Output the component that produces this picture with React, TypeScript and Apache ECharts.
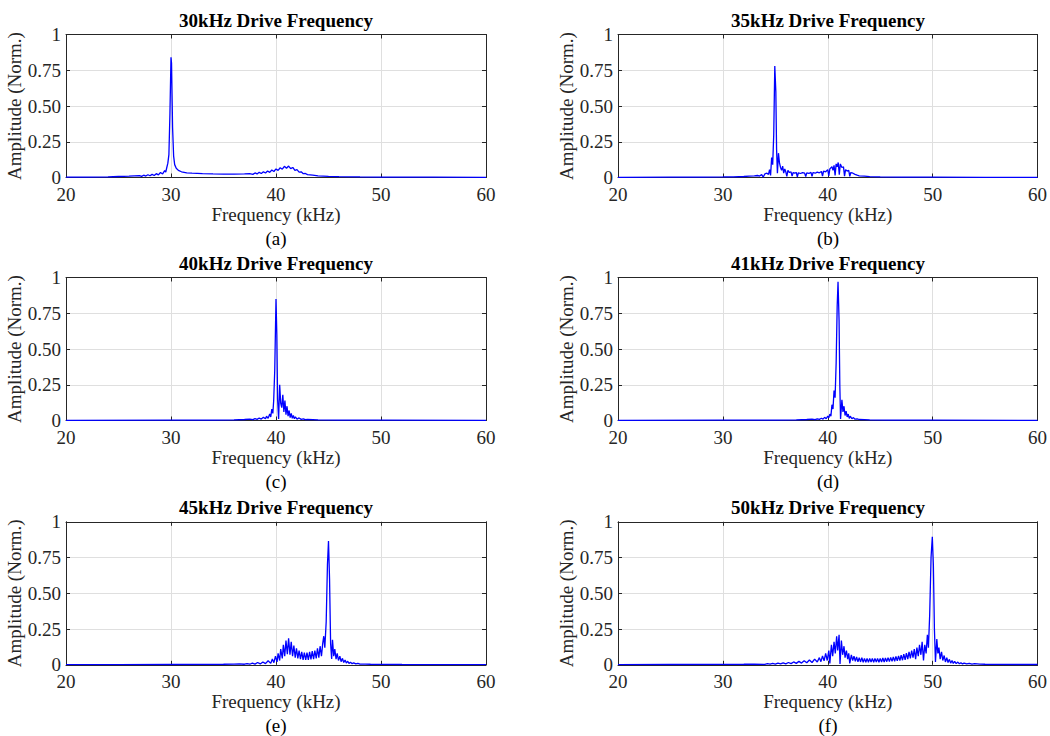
import React, { useEffect, useRef } from "react";
import * as echarts from "echarts";

// ---------- data ----------
const TITLES = [
  "30kHz Drive Frequency",
  "35kHz Drive Frequency",
  "40kHz Drive Frequency",
  "41kHz Drive Frequency",
  "45kHz Drive Frequency",
  "50kHz Drive Frequency",
];
const CAPTIONS = ["(a)", "(b)", "(c)", "(d)", "(e)", "(f)"];
const X_LABEL = "Frequency (kHz)";
const Y_LABEL = "Amplitude (Norm.)";
const X_TICKS = [20, 30, 40, 50, 60];
const Y_TICKS = [0, 0.25, 0.5, 0.75, 1];
const Y_TICK_LABELS = ["0", "0.25", "0.50", "0.75", "1"];

// (a) 30 kHz drive
const FREQ_A = [20, 22, 24, 25, 26, 26.5, 27, 27.2, 27.4, 27.6, 27.8, 28, 28.2, 28.4, 28.6, 28.8, 29, 29.2, 29.4, 29.5, 29.6, 29.7, 29.8, 29.9, 30, 30.05, 30.15, 30.25, 30.35, 30.5, 30.7, 31, 31.5, 32, 33, 34, 35, 36, 37, 37.5, 37.8, 38, 38.2, 38.4, 38.6, 38.8, 39, 39.2, 39.4, 39.6, 39.8, 40, 40.2, 40.4, 40.6, 40.8, 41, 41.2, 41.4, 41.6, 41.8, 42, 42.2, 42.4, 42.6, 42.8, 43, 43.5, 44, 45, 46, 48, 50, 55, 60];
const AMP_A = [0.002, 0.003, 0.005, 0.007, 0.009, 0.011, 0.013, 0.008, 0.016, 0.01, 0.019, 0.012, 0.022, 0.014, 0.027, 0.018, 0.035, 0.025, 0.048, 0.038, 0.07, 0.1, 0.16, 0.45, 0.84, 0.8, 0.35, 0.15, 0.09, 0.065, 0.05, 0.04, 0.033, 0.03, 0.027, 0.025, 0.024, 0.024, 0.025, 0.027, 0.022, 0.032, 0.025, 0.036, 0.028, 0.04, 0.031, 0.045, 0.036, 0.052, 0.042, 0.06, 0.05, 0.068, 0.058, 0.078, 0.065, 0.08, 0.062, 0.07, 0.05, 0.055, 0.038, 0.04, 0.027, 0.028, 0.02, 0.016, 0.012, 0.008, 0.006, 0.004, 0.003, 0.002, 0.001];

// (b) 35 kHz drive
const FREQ_B = [20, 25, 28, 30, 31, 32, 32.5, 33, 33.3, 33.5, 33.7, 33.85, 34, 34.2, 34.35, 34.45, 34.55, 34.65, 34.75, 34.85, 34.95, 35.05, 35.12, 35.2, 35.3, 35.4, 35.5, 35.6, 35.7, 35.8, 35.9, 36, 36.1, 36.2, 36.35, 36.5, 36.6, 36.7, 36.85, 37, 37.1, 37.2, 37.4, 37.6, 37.8, 37.9, 38, 38.2, 38.4, 38.5, 38.6, 38.8, 39, 39.2, 39.4, 39.5, 39.6, 39.8, 40, 40.1, 40.2, 40.4, 40.5, 40.6, 40.7, 40.8, 40.9, 41, 41.1, 41.2, 41.35, 41.5, 41.6, 41.7, 41.85, 42, 42.1, 42.2, 42.4, 42.6, 42.8, 43, 43.5, 44, 45, 47, 50, 55, 60];
const AMP_B = [0.001, 0.002, 0.003, 0.004, 0.005, 0.007, 0.009, 0.011, 0.014, 0.01, 0.02, 0.003, 0.025, 0.03, 0.022, 0.055, 0.015, 0.14, 0.09, 0.3, 0.78, 0.6, 0.2, 0.03, 0.17, 0.1, 0.07, 0.05, 0.08, 0.03, 0.06, 0.04, 0.008, 0.05, 0.035, 0.04, 0.01, 0.035, 0.03, 0.035, 0.005, 0.033, 0.028, 0.034, 0.03, 0.006, 0.032, 0.028, 0.036, 0.008, 0.035, 0.03, 0.038, 0.033, 0.042, 0.01, 0.045, 0.04, 0.055, 0.012, 0.06, 0.075, 0.05, 0.085, 0.015, 0.095, 0.075, 0.105, 0.02, 0.095, 0.07, 0.075, 0.01, 0.055, 0.045, 0.05, 0.008, 0.035, 0.03, 0.022, 0.016, 0.012, 0.009, 0.006, 0.004, 0.003, 0.002, 0.001, 0.001];

// (c) 40 kHz drive
const FREQ_C = [20, 30, 34, 36, 37, 37.5, 37.8, 38, 38.2, 38.4, 38.6, 38.8, 39, 39.1, 39.25, 39.4, 39.5, 39.6, 39.7, 39.78, 39.88, 40, 40.08, 40.15, 40.25, 40.35, 40.45, 40.55, 40.65, 40.75, 40.85, 40.95, 41.05, 41.15, 41.25, 41.35, 41.45, 41.55, 41.65, 41.75, 41.85, 42, 42.2, 42.4, 42.6, 42.8, 43, 44, 46, 50, 60];
const AMP_C = [0.001, 0.002, 0.003, 0.005, 0.007, 0.01, 0.006, 0.013, 0.008, 0.017, 0.01, 0.022, 0.012, 0.03, 0.015, 0.045, 0.025, 0.08, 0.05, 0.14, 0.35, 0.85, 0.6, 0.15, 0.01, 0.25, 0.12, 0.09, 0.18, 0.06, 0.14, 0.04, 0.1, 0.03, 0.07, 0.02, 0.05, 0.015, 0.035, 0.012, 0.025, 0.01, 0.018, 0.008, 0.012, 0.006, 0.008, 0.005, 0.003, 0.002, 0.001];

// (d) 41 kHz drive
const FREQ_D = [20, 30, 35, 37, 38, 38.5, 38.8, 39, 39.2, 39.4, 39.55, 39.7, 39.85, 40, 40.1, 40.2, 40.3, 40.4, 40.5, 40.6, 40.7, 40.8, 40.9, 40.98, 41.08, 41.15, 41.22, 41.35, 41.45, 41.55, 41.65, 41.75, 41.85, 41.95, 42.05, 42.15, 42.3, 42.45, 42.6, 42.8, 43, 43.5, 44, 46, 50, 60];
const AMP_D = [0.001, 0.002, 0.003, 0.005, 0.007, 0.009, 0.006, 0.012, 0.008, 0.016, 0.01, 0.022, 0.012, 0.03, 0.018, 0.045, 0.03, 0.11, 0.08, 0.21, 0.16, 0.4, 0.8, 0.97, 0.7, 0.25, 0.01, 0.145, 0.06, 0.1, 0.035, 0.065, 0.025, 0.045, 0.015, 0.03, 0.012, 0.02, 0.009, 0.012, 0.007, 0.006, 0.005, 0.003, 0.002, 0.001];

// (e) 45 kHz drive
const FREQ_E = [20, 25, 30, 33, 35, 36, 36.5, 37, 37.25, 37.5, 37.75, 38, 38.25, 38.5, 38.75, 39, 39.25, 39.5, 39.65, 39.8, 39.95, 40.1, 40.2, 40.35, 40.45, 40.6, 40.7, 40.83, 40.95, 41.08, 41.2, 41.33, 41.45, 41.58, 41.7, 41.83, 41.95, 42.08, 42.2, 42.33, 42.45, 42.58, 42.7, 42.83, 42.95, 43.08, 43.2, 43.33, 43.45, 43.58, 43.7, 43.83, 43.95, 44.08, 44.2, 44.33, 44.45, 44.55, 44.65, 44.78, 44.9, 45, 45.1, 45.2, 45.3, 45.38, 45.5, 45.6, 45.72, 45.83, 45.95, 46.08, 46.2, 46.33, 46.45, 46.58, 46.7, 46.83, 46.95, 47.1, 47.25, 47.4, 47.6, 47.8, 48, 48.5, 49, 50, 52, 55, 60];
const AMP_E = [0.001, 0.001, 0.002, 0.003, 0.004, 0.005, 0.007, 0.004, 0.009, 0.004, 0.012, 0.005, 0.016, 0.006, 0.02, 0.008, 0.028, 0.01, 0.04, 0.015, 0.06, 0.02, 0.08, 0.03, 0.11, 0.045, 0.14, 0.06, 0.17, 0.075, 0.185, 0.07, 0.16, 0.06, 0.135, 0.05, 0.115, 0.045, 0.1, 0.04, 0.09, 0.035, 0.085, 0.035, 0.085, 0.035, 0.09, 0.038, 0.095, 0.04, 0.1, 0.045, 0.115, 0.05, 0.13, 0.06, 0.15, 0.2, 0.12, 0.3, 0.7, 0.865, 0.6, 0.15, 0.04, 0.175, 0.06, 0.11, 0.04, 0.08, 0.03, 0.06, 0.022, 0.045, 0.016, 0.033, 0.012, 0.025, 0.01, 0.018, 0.008, 0.013, 0.006, 0.01, 0.005, 0.005, 0.004, 0.003, 0.002, 0.001, 0.001];

// (f) 50 kHz drive
const FREQ_F = [20, 25, 30, 32, 33, 34, 34.25, 34.5, 34.75, 35, 35.25, 35.5, 35.75, 36, 36.25, 36.5, 36.75, 37, 37.25, 37.5, 37.75, 38, 38.25, 38.5, 38.75, 39, 39.2, 39.35, 39.5, 39.65, 39.8, 39.95, 40.1, 40.2, 40.35, 40.47, 40.6, 40.72, 40.85, 40.95, 41.08, 41.17, 41.3, 41.42, 41.55, 41.65, 41.78, 41.9, 42, 42.1, 42.25, 42.38, 42.5, 42.63, 42.75, 42.88, 43, 43.13, 43.25, 43.38, 43.5, 43.63, 43.75, 43.88, 44, 44.13, 44.25, 44.38, 44.5, 44.63, 44.75, 44.88, 45, 45.13, 45.25, 45.38, 45.5, 45.63, 45.75, 45.88, 46, 46.13, 46.25, 46.38, 46.5, 46.63, 46.75, 46.88, 47, 47.13, 47.25, 47.38, 47.5, 47.63, 47.75, 47.88, 48, 48.13, 48.25, 48.38, 48.5, 48.63, 48.75, 48.88, 49, 49.13, 49.25, 49.38, 49.5, 49.6, 49.72, 49.85, 49.97, 50.07, 50.17, 50.27, 50.4, 50.5, 50.6, 50.72, 50.85, 50.97, 51.1, 51.22, 51.35, 51.47, 51.6, 51.72, 51.85, 51.97, 52.1, 52.25, 52.4, 52.55, 52.7, 52.85, 53, 53.25, 53.5, 53.75, 54, 54.5, 55, 56, 58, 60];
const AMP_F = [0.001, 0.002, 0.003, 0.004, 0.005, 0.003, 0.008, 0.004, 0.01, 0.005, 0.012, 0.006, 0.014, 0.007, 0.016, 0.008, 0.02, 0.01, 0.024, 0.012, 0.028, 0.014, 0.034, 0.016, 0.04, 0.02, 0.05, 0.022, 0.062, 0.028, 0.08, 0.03, 0.1, 0.01, 0.14, 0.06, 0.16, 0.08, 0.2, 0.1, 0.21, 0.005, 0.17, 0.07, 0.13, 0.05, 0.1, 0.04, 0.08, 0.01, 0.07, 0.03, 0.06, 0.025, 0.055, 0.02, 0.05, 0.02, 0.05, 0.018, 0.045, 0.018, 0.045, 0.018, 0.045, 0.02, 0.045, 0.018, 0.045, 0.02, 0.045, 0.018, 0.045, 0.02, 0.048, 0.02, 0.048, 0.022, 0.05, 0.022, 0.052, 0.024, 0.055, 0.025, 0.058, 0.028, 0.062, 0.03, 0.068, 0.032, 0.075, 0.035, 0.082, 0.04, 0.09, 0.045, 0.1, 0.05, 0.11, 0.04, 0.12, 0.06, 0.14, 0.07, 0.16, 0.03, 0.14, 0.08, 0.21, 0.12, 0.35, 0.75, 0.895, 0.7, 0.25, 0.02, 0.18, 0.08, 0.12, 0.04, 0.09, 0.03, 0.065, 0.02, 0.05, 0.016, 0.038, 0.012, 0.03, 0.01, 0.024, 0.008, 0.019, 0.007, 0.015, 0.006, 0.012, 0.006, 0.01, 0.005, 0.008, 0.005, 0.004, 0.003, 0.002, 0.002];

const FREQS = [FREQ_A, FREQ_B, FREQ_C, FREQ_D, FREQ_E, FREQ_F];
const AMPS = [AMP_A, AMP_B, AMP_C, AMP_D, AMP_E, AMP_F];

// ---------- layout / style ----------
const FONT = "Liberation Serif, Times New Roman, serif";
const FS = 19;
const AX = "#262626";
const GRID_C = "#dfdfdf";
const COL_LEFT = [66, 618];
const ROW_TOP = [34.5, 277.5, 521.8];
const GW = 420;
const GH = 143;

function buildOption() {
  const grid: any[] = [];
  const xAxis: any[] = [];
  const yAxis: any[] = [];
  const series: any[] = [];
  const graphic: any[] = [];
  for (let i = 0; i < 6; i++) {
    const col = i % 2;
    const row = Math.floor(i / 2);
    const left = COL_LEFT[col];
    const top = ROW_TOP[row];
    grid.push({ left, top, width: GW, height: GH, show: false, containLabel: false });
    const common = {
      type: "value",
      gridIndex: i,
      min: X_TICKS[0],
      max: X_TICKS[X_TICKS.length - 1],
      interval: 10,
    };
    xAxis.push({
      ...common,
      position: "bottom",
      axisLine: { show: true, onZero: false, lineStyle: { color: AX, width: 1 } },
      axisTick: { show: true, inside: true, length: 4, lineStyle: { color: AX } },
      axisLabel: { show: true, margin: 9, color: AX, fontFamily: FONT, fontSize: FS, lineHeight: 16 },
      splitLine: { show: true, lineStyle: { color: GRID_C, width: 1 } },
      name: X_LABEL,
      nameLocation: "middle",
      nameGap: 27,
      nameTextStyle: { color: AX, fontFamily: FONT, fontSize: FS },
    });
    xAxis.push({
      ...common,
      position: "top",
      axisLine: { show: true, onZero: false, lineStyle: { color: AX, width: 1 } },
      axisTick: { show: true, inside: true, length: 4, lineStyle: { color: AX } },
      axisLabel: { show: false },
      splitLine: { show: false },
    });
    const ycommon = {
      type: "value",
      gridIndex: i,
      min: 0,
      max: 1,
      interval: 0.25,
    };
    yAxis.push({
      ...ycommon,
      position: "left",
      axisLine: { show: true, onZero: false, lineStyle: { color: AX, width: 1 } },
      axisTick: { show: true, inside: true, length: 4, lineStyle: { color: AX } },
      axisLabel: {
        show: true,
        margin: 5,
        color: AX,
        fontFamily: FONT,
        fontSize: FS,
        lineHeight: 16,
        formatter: (v: number) => {
          const k = Y_TICKS.findIndex((t) => Math.abs(t - v) < 1e-9);
          return k >= 0 ? Y_TICK_LABELS[k] : "";
        },
      },
      splitLine: { show: true, lineStyle: { color: GRID_C, width: 1 } },
      name: Y_LABEL,
      nameLocation: "middle",
      nameGap: 38,
      nameTextStyle: { color: AX, fontFamily: FONT, fontSize: FS },
    });
    yAxis.push({
      ...ycommon,
      position: "right",
      axisLine: { show: true, onZero: false, lineStyle: { color: AX, width: 1 } },
      axisTick: { show: true, inside: true, length: 4, lineStyle: { color: AX } },
      axisLabel: { show: false },
      splitLine: { show: false },
    });
    const f = FREQS[i];
    const a = AMPS[i];
    series.push({
      type: "line",
      xAxisIndex: 2 * i,
      yAxisIndex: 2 * i,
      data: f.map((x, k) => [x, a[k]]),
      showSymbol: false,
      symbol: "none",
      lineStyle: { color: "#0000ff", width: 1.3 },
      clip: true,
      z: 3,
    });
    graphic.push({
      type: "text",
      x: left + GW / 2,
      y: top - 14,
      style: {
        text: TITLES[i],
        fill: "#000",
        fontFamily: FONT,
        fontSize: FS,
        fontWeight: "bold",
        textAlign: "center",
        textVerticalAlign: "middle",
      },
    });
    graphic.push({
      type: "text",
      x: left + GW / 2,
      y: top + GH + 61,
      style: {
        text: CAPTIONS[i],
        fill: "#000",
        fontFamily: FONT,
        fontSize: FS,
        textAlign: "center",
        textVerticalAlign: "middle",
      },
    });
  }
  return {
    animation: false,
    backgroundColor: "#ffffff",
    textStyle: { fontFamily: FONT },
    grid,
    xAxis,
    yAxis,
    series,
    graphic,
  };
}

export default function App() {
  const ref = useRef<HTMLDivElement>(null);
  useEffect(() => {
    if (!ref.current) return;
    const chart = echarts.init(ref.current, undefined, { renderer: "svg" });
    chart.setOption(buildOption() as any);
    return () => chart.dispose();
  }, []);
  return (
    <div
      ref={ref}
      style={{ position: "absolute", left: 0, top: 0, width: 1050, height: 736, background: "#fff" }}
    />
  );
}
